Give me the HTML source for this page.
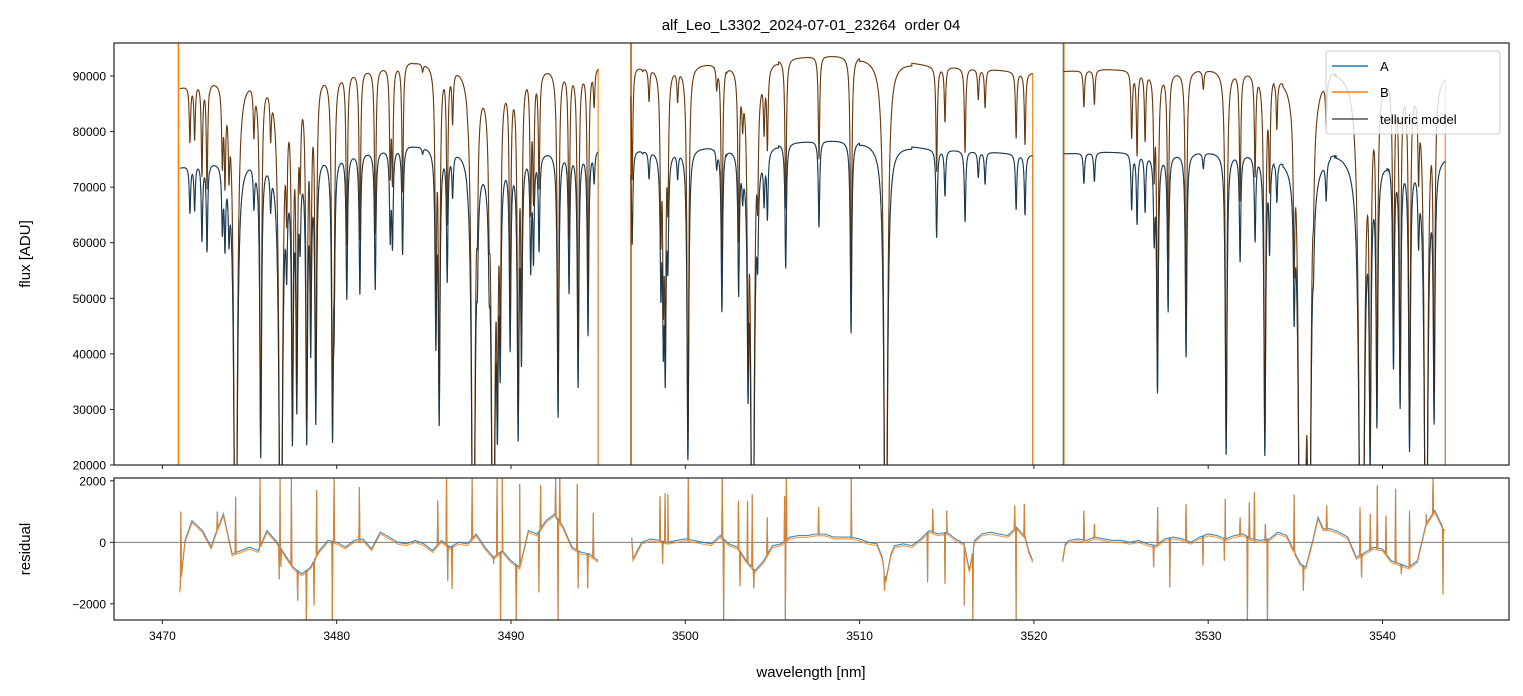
<!DOCTYPE html>
<html><head><meta charset="utf-8">
<style>
body{margin:0;background:#fff;}
svg{display:block;font-family:"Liberation Sans","DejaVu Sans",sans-serif;}
</style></head>
<body>
<svg id="chart" width="1523" height="696" viewBox="0 0 1523 696" xmlns="http://www.w3.org/2000/svg">
<defs>
<clipPath id="clipTop"><rect x="114" y="43" width="1395" height="422"/></clipPath>
<clipPath id="clipBot"><rect x="114" y="478" width="1395" height="142"/></clipPath>
</defs>
<rect x="0" y="0" width="1523" height="696" fill="#fff"/>
<text x="811" y="30" font-size="15" text-anchor="middle" fill="#000" style="white-space:pre">alf_Leo_L3302_2024-07-01_23264  order 04</text>
<g id="topPlot" clip-path="url(#clipTop)"></g>
<g id="botPlot" clip-path="url(#clipBot)"></g>
<g id="axes"></g>
<text transform="translate(30,254) rotate(-90)" font-size="15" text-anchor="middle">flux [ADU]</text>
<text transform="translate(30,549) rotate(-90)" font-size="15" text-anchor="middle">residual</text>
<text x="811" y="677" font-size="15" text-anchor="middle">wavelength [nm]</text>
<g>
<rect x="1326" y="51" width="174" height="83" rx="3" fill="#fff" fill-opacity="0.8" stroke="#ccc" stroke-width="1"/>
<line x1="1332" y1="66" x2="1368" y2="66" stroke="#1f77b4" stroke-width="1.5"/>
<text x="1380" y="71" font-size="13">A</text>
<line x1="1332" y1="92" x2="1368" y2="92" stroke="#ff7f0e" stroke-width="1.5"/>
<text x="1380" y="97" font-size="13">B</text>
<line x1="1332" y1="119" x2="1368" y2="119" stroke="#555" stroke-width="1.5"/>
<text x="1380" y="124" font-size="13">telluric model</text>
</g>
</svg>
<script>
// ---- data ----
const xTicks = [3470,3480,3490,3500,3510,3520,3530,3540];
const yTicksTop = [20000,30000,40000,50000,60000,70000,80000,90000];
const yTicksBot = [-2000,0,2000];
const segStart = [3471.0, 3496.87, 3521.7];
const segEnd = [3495.0, 3519.93, 3543.6];
const edgeLinesB = [3470.92, 3496.87, 3521.72];
const edgeLinesA = [3496.9, 3521.68];
const ratioB = 1.195;
const contWl = [3471,3472,3473,3476,3480,3482,3484,3486,3488,3490,3492,3494,3495,3497,3500,3502,3505,3508,3510,3512,3514,3516,3518,3520,3521.7,3524,3528,3530,3533,3537,3540,3543.6];
const contFlux = [73500,74500,75000,75300,75900,76500,77500,77300,76800,76200,76400,76800,76900,76700,77000,77300,77800,78400,78300,77600,76900,76600,76200,75800,76000,76300,76100,76300,76000,76200,75500,75800];
const lineWl = [3471.58,3471.85,3472.27,3472.56,3473.44,3473.59,3473.82,3474.2,3475.25,3475.64,3476.21,3476.79,3477.13,3477.46,3477.71,3477.9,3478.28,3478.51,3478.8,3479.76,3479.85,3480.58,3481.33,3482.21,3483.07,3483.2,3483.78,3484.93,3485.69,3485.88,3486.34,3486.65,3487.84,3488.07,3488.75,3488.98,3489.22,3489.38,3489.95,3490.41,3490.6,3491.13,3491.29,3491.61,3492.7,3493.33,3493.85,3494.42,3494.77,
 3496.95,3497.55,3497.92,3498.6,3498.74,3498.85,3499.0,3499.56,3500.15,3501.8,3502.1,3503.06,3503.29,3503.6,3503.86,3504.15,3504.52,3504.71,3505.76,3507.67,3509.51,3511.5,3514.42,3514.9,3516.05,3516.81,3517.2,3518.98,3519.49,
 3522.87,3523.47,3525.61,3525.92,3526.38,3526.9,3527.09,3527.7,3528.73,3529.72,3531.03,3531.83,3532.69,3533.25,3533.52,3533.94,3534.93,3535.28,3535.52,3535.79,3536.04,3536.77,3538.76,3538.85,3539.29,3539.68,3540.63,3541.01,3541.55,3542.07,3542.5,3542.96];
const lineMin = [67200,67500,61700,59600,64400,61900,65300,0,68300,21800,68900,0,60200,25100,31400,63200,24800,42400,28100,26000,52400,50000,50600,51200,60500,59300,56900,74900,42100,27500,53000,68300,0,62200,62200,0,30500,40100,41600,25400,40100,55700,57500,58700,28400,50900,33800,43000,70500,
 59100,75600,71100,52500,44100,37500,57900,71400,20600,72600,46800,50700,69900,36300,0,61700,67500,64200,54000,60900,42400,0,60300,67800,63300,71400,70200,66000,65100,
 70500,70800,66000,63400,65700,61700,33300,47700,39300,73200,21800,56700,60600,21800,59700,68200,51900,0,0,0,67500,69000,0,0,21800,28100,38100,31000,23000,63600,0,29000];
const resWl = [3471.0,3471.3,3471.7,3472.3,3472.8,3473.0,3473.5,3474.0,3474.5,3475.0,3475.5,3476.0,3476.5,3477.0,3477.5,3478.0,3478.5,3479.0,3479.5,3480.0,3480.5,3481.0,3481.5,3482.0,3482.5,3483.0,3483.5,3484.0,3484.5,3485.0,3485.5,3486.0,3486.5,3487.0,3487.5,3488.0,3488.5,3489.0,3489.5,3490.0,3490.5,3491.0,3491.5,3492.0,3492.5,3493.0,3493.5,3494.0,3494.5,3495.0,
 3496.93,3497.0,3497.5,3498.0,3498.5,3499.0,3499.5,3500.0,3500.5,3501.0,3501.5,3502.0,3502.5,3503.0,3503.5,3504.0,3504.5,3505.0,3505.5,3506.0,3506.5,3507.0,3507.5,3508.0,3508.5,3509.0,3509.5,3510.0,3510.5,3511.0,3511.3,3511.5,3511.8,3512.0,3512.5,3513.0,3513.5,3514.0,3514.5,3515.0,3515.5,3516.0,3516.3,3516.6,3517.0,3517.5,3518.0,3518.5,3519.0,3519.5,3519.7,3519.93,
 3521.65,3521.8,3522.0,3522.5,3523.0,3523.5,3524.0,3524.5,3525.0,3525.5,3526.0,3526.5,3527.0,3527.5,3528.0,3528.5,3529.0,3529.5,3530.0,3530.5,3531.0,3531.5,3532.0,3532.5,3533.0,3533.5,3534.0,3534.5,3535.0,3535.3,3535.6,3536.0,3536.3,3536.6,3537.0,3537.5,3538.0,3538.5,3539.0,3539.5,3540.0,3540.5,3541.0,3541.5,3542.0,3542.5,3543.0,3543.55];
const resVal = [-1570,60,700,380,-160,200,920,-380,-270,-160,-270,380,60,-380,-810,-1030,-810,-270,60,0,-160,60,110,-210,330,170,0,-50,60,-50,-270,60,-160,0,-50,270,-160,-490,-270,-600,-810,380,270,700,920,490,-160,-320,-380,-600,
 150,-540,0,110,60,0,60,110,60,0,-50,220,-50,-160,-600,-920,-600,-110,-50,170,220,220,270,270,170,170,170,110,0,-50,-490,-1250,-380,-110,-50,-110,110,380,270,330,110,-50,-920,60,270,330,270,220,490,170,-270,-600,
 -600,-50,60,110,60,170,110,60,60,0,60,-50,-110,110,170,110,0,170,270,220,110,220,270,110,60,110,330,220,-380,-700,-810,60,810,440,440,330,170,-490,-330,-160,-220,-600,-700,-810,-600,600,1030,380];
const spikeWl = [3471.06,3473.15,3474.2,3475.6,3476.7,3476.75,3476.8,3477.4,3477.76,3478.26,3478.7,3478.85,3479.75,3479.85,3481.3,3485.8,3486.3,3486.37,3486.62,3487.77,3489.0,3489.2,3489.4,3489.5,3490.3,3490.5,3491.6,3491.7,3492.56,3492.7,3492.8,3493.8,3493.85,3494.4,3494.72,
 3498.55,3498.7,3498.84,3499.0,3500.17,3502.12,3502.2,3503.05,3503.14,3503.57,3503.84,3503.93,3504.7,3505.7,3505.74,3505.8,3507.65,3509.52,3511.43,3513.9,3514.2,3514.9,3515.0,3516.0,3516.5,3518.9,3518.98,3519.45,
 3522.87,3523.47,3526.87,3527.1,3527.8,3528.73,3529.7,3530.93,3530.97,3531.83,3532.25,3532.36,3532.65,3533.28,3533.4,3534.93,3535.46,3536.8,3538.71,3538.8,3539.3,3539.7,3540.2,3540.75,3541.08,3541.55,3542.5,3542.9,3543.47];
const spikeVal = [1000,1000,1490,2100,-1200,2100,-800,2100,-1900,-2600,-2060,1700,-2600,2100,1800,1360,2100,-1250,-1520,2100,-700,2100,-2600,2100,-2600,1900,-1630,1850,2100,-2600,2100,1900,-1500,-1500,960,
 1500,-700,1600,1560,2100,2100,-2600,1350,-1430,1350,1560,-1500,810,1500,-2600,2100,1140,2100,-1570,-1300,1090,-1360,1030,-2060,-2600,1200,-2600,1250,
 1030,600,-810,1140,-1460,1250,-760,-600,1410,810,-2600,1300,1630,600,-2600,1550,-1570,1200,1140,-1140,920,1850,870,1740,-1030,1030,920,2100,-1700];

// ---- scales ----
const xS = w => 162.4 + (w - 3470) * 17.43;
const yT = f => 76 + (90000 - f) * 0.005557;
const yR = r => 542.3 - r * 0.03075;
const NS = 'http://www.w3.org/2000/svg';
function mk(tag, attrs, parent){const e=document.createElementNS(NS,tag);for(const k in attrs)e.setAttribute(k,attrs[k]);parent.appendChild(e);return e;}
function interp(xs, ys, x){
  if (x <= xs[0]) return ys[0];
  if (x >= xs[xs.length-1]) return ys[ys.length-1];
  for (let i=1;i<xs.length;i++) if (x<=xs[i]) {const t=(x-xs[i-1])/(xs[i]-xs[i-1]);return ys[i-1]+t*(ys[i]-ys[i-1]);}
  return ys[ys.length-1];
}
const lw = 0.045;
function trans(w){
  let tau=0;
  for (let i=0;i<lineWl.length;i++){
    const d=(w-lineWl[i]); if (Math.abs(d)>1.5) continue;
    const t0=-Math.log(Math.max(lineMin[i],200)/76000);
    tau += t0/(1+(d/lw)*(d/lw));
  }
  return Math.exp(-tau);
}
const topG = document.getElementById('topPlot');
const botG = document.getElementById('botPlot');
const axesG = document.getElementById('axes');

function fluxPts(s, scale, withEndEdge){
  const pts=[];
  for (let w=segStart[s]; w<=segEnd[s]+1e-9; w+=0.01){
    const f=interp(contWl,contFlux,w)*scale*trans(w);
    pts.push(xS(w).toFixed(2)+','+yT(f).toFixed(2));
  }
  if (withEndEdge) pts.push(xS(segEnd[s]).toFixed(2)+','+yT(0).toFixed(2));
  return pts.join(' ');
}
const seriesDefs = [
  {name:'series-a', scale:1, color:'#1f77b4'},
  {name:'series-b', scale:ratioB, color:'#ff7f0e'}
];
seriesDefs.forEach(sd=>{
  for (let s=0;s<segStart.length;s++){
    const p=mk('polyline',{points:fluxPts(s,sd.scale,true),fill:'none',stroke:sd.color,'stroke-width':1.1},topG);
    
    
  }
});
edgeLinesB.forEach(w=>{
  const l=mk('line',{x1:xS(w),x2:xS(w),y1:43,y2:465,stroke:'#ff7f0e','stroke-width':1.5},topG);
  
  
});
edgeLinesA.forEach(w=>{
  const l=mk('line',{x1:xS(w),x2:xS(w),y1:43,y2:465,stroke:'#1f77b4','stroke-width':1},topG);
  
  
});
[1, ratioB].forEach(sc=>{
  for (let s=0;s<segStart.length;s++){
    const p=mk('polyline',{points:fluxPts(s,sc,false),fill:'none',stroke:'#222','stroke-width':1,'stroke-opacity':0.75},topG);
    
    
  }
});

function resPts(s, shift){
  const items=[];
  for (let i=0;i<resWl.length;i++) if (resWl[i]>=segStart[s]-0.1 && resWl[i]<=segEnd[s]+0.1) items.push([resWl[i],resVal[i]+shift]);
  for (let i=0;i<spikeWl.length;i++) if (spikeWl[i]>=segStart[s] && spikeWl[i]<=segEnd[s]){
    const w=spikeWl[i];
    items.push([w-0.03, interp(resWl,resVal,w-0.03)+shift]);
    items.push([w, spikeVal[i]]);
    items.push([w+0.03, interp(resWl,resVal,w+0.03)+shift]);
  }
  items.sort((a,b)=>a[0]-b[0]);
  return items.map(p=>xS(p[0]).toFixed(2)+','+yR(p[1]).toFixed(2)).join(' ');
}
const zl=mk('line',{x1:114,x2:1509,y1:yR(0),y2:yR(0),stroke:'#666','stroke-width':0.8},botG);


for (let s=0;s<segStart.length;s++){
  const pa=mk('polyline',{points:resPts(s,0),fill:'none',stroke:'#1f77b4','stroke-width':1.1,'stroke-opacity':0.85},botG);
  
  
  const pb=mk('polyline',{points:resPts(s,-60),fill:'none',stroke:'#ff7f0e','stroke-width':1.1,'stroke-opacity':0.8},botG);
  
  
}

const f1=mk('rect',{x:114,y:43,width:1395,height:422,fill:'none',stroke:'#222','stroke-width':1.2},axesG);


const f2=mk('rect',{x:114,y:478,width:1395,height:142,fill:'none',stroke:'#222','stroke-width':1.2},axesG);


xTicks.forEach(t=>{
  const x=xS(t);
  const a=mk('line',{x1:x,x2:x,y1:465,y2:469,stroke:'#222','stroke-width':1},axesG);
  
  
  const b=mk('line',{x1:x,x2:x,y1:620,y2:624,stroke:'#222','stroke-width':1},axesG);
  
  
  const tx=mk('text',{x:x,y:640,'font-size':12,'text-anchor':'middle'},axesG);
  tx.textContent=String(t);
  
  
});
yTicksTop.forEach(t=>{
  const y=yT(t);
  const a=mk('line',{x1:110,x2:114,y1:y,y2:y,stroke:'#222','stroke-width':1},axesG);
  
  
  const tx=mk('text',{x:106,y:y+4.5,'font-size':12,'text-anchor':'end'},axesG);
  tx.textContent=String(t);
  
  
});
yTicksBot.forEach(t=>{
  const y=yR(t);
  const a=mk('line',{x1:110,x2:114,y1:y,y2:y,stroke:'#222','stroke-width':1},axesG);
  
  
  const tx=mk('text',{x:106,y:y+4.5,'font-size':12,'text-anchor':'end'},axesG);
  tx.textContent=(t<0?'\u2212'+Math.abs(t):String(t));
  
  
});
</script>
</body></html>
